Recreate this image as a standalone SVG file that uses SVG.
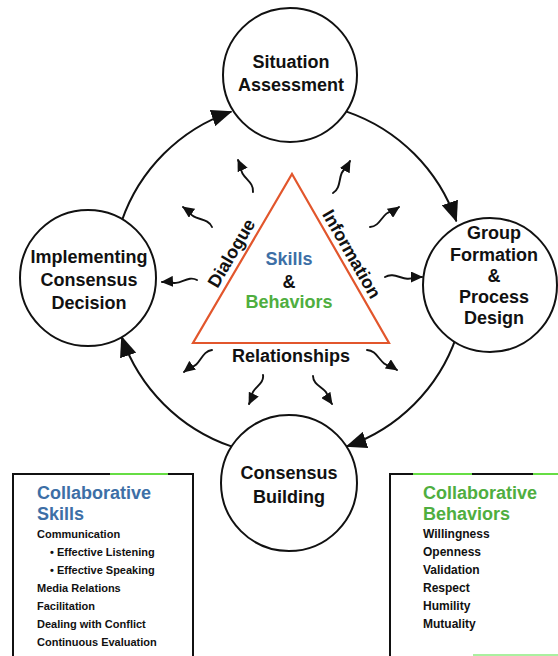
<svg xmlns="http://www.w3.org/2000/svg" width="558" height="656" viewBox="0 0 558 656">
  <style>
    .node { fill: #ffffff; stroke: #111111; stroke-width: 2; }
    .lbl { font-family: "Liberation Sans", Arial, sans-serif; font-weight: bold; font-size: 18px; fill: #111111; text-anchor: middle; }
    .ring { fill: none; stroke: #111111; stroke-width: 2; }
    .wave { fill: none; stroke: #111111; stroke-width: 1.9; stroke-linecap: round; stroke-linejoin: round; }
    .tri { fill: #ffffff; stroke: #e2562c; stroke-width: 2.2; stroke-linejoin: miter; }
    .blue { fill: #3d6fa6; }
    .green { fill: #4fae3f; }
    .title { font-family: "Liberation Sans", Arial, sans-serif; font-weight: bold; font-size: 18px; }
    .item { font-family: "Liberation Sans", Arial, sans-serif; font-weight: bold; font-size: 11px; fill: #111111; }
    .item2 { font-family: "Liberation Sans", Arial, sans-serif; font-weight: bold; font-size: 12px; fill: #111111; }
    .frame { stroke: #111111; stroke-width: 2; fill: none; }
    .frameg { stroke: #66dd44; stroke-width: 2; fill: none; }
  </style>
  <defs>
    <marker id="bigHead" markerUnits="userSpaceOnUse" markerWidth="21" markerHeight="17" refX="20" refY="8.5" orient="auto">
      <path d="M0,0 L21,8.5 L0,17 z" fill="#111111"/>
    </marker>
    <marker id="smallHead" markerUnits="userSpaceOnUse" markerWidth="12" markerHeight="11" refX="11" refY="5.5" orient="auto">
      <path d="M0,0 L12,5.5 L0,11 z" fill="#111111"/>
    </marker>
  </defs>

  <rect width="558" height="656" fill="#ffffff"/>

  <!-- cycle arcs between the four stages -->
  <g id="connectors">
    <path class="ring" d="M346.6 111.6 A177 177 0 0 1 456.4 221.4" marker-end="url(#bigHead)"/>
    <path class="ring" d="M456.4 336.6 A177 177 0 0 1 346.6 446.4" marker-end="url(#bigHead)"/>
    <path class="ring" d="M231.4 446.4 A177 177 0 0 1 121.6 336.6" marker-end="url(#bigHead)"/>
    <path class="ring" d="M121.6 221.4 A177 177 0 0 1 231.4 111.6" marker-end="url(#bigHead)"/>
  </g>

  <!-- wavy arrows radiating from the triangle -->
  <g id="radiating">
    <path class="wave" d="M253 192 C254.4 180.9 239.6 177.5 241 166.4 L238 160" marker-end="url(#smallHead)"/>
    <path class="wave" d="M333 193 C342.8 187.3 336.8 173.1 346.6 167.4 L350 161" marker-end="url(#smallHead)"/>
    <path class="wave" d="M212 227 C207.7 216.8 193.1 221.2 188.8 211 L183 207" marker-end="url(#smallHead)"/>
    <path class="wave" d="M370 227 C381.1 226.6 382.1 211.4 393.2 211 L399 207" marker-end="url(#smallHead)"/>
    <path class="wave" d="M197 280 C187.4 274.5 178.6 287.1 169 281.6 L162 282" marker-end="url(#smallHead)"/>
    <path class="wave" d="M385 277 C394.9 271 404.7 283 414.6 277 L422 277" marker-end="url(#smallHead)"/>
    <path class="wave" d="M212 350 C200.8 351.2 200.8 366.4 189.6 367.6 L184 372" marker-end="url(#smallHead)"/>
    <path class="wave" d="M367 350 C378.3 350.3 379.7 365.7 391 366 L397 370" marker-end="url(#smallHead)"/>
    <path class="wave" d="M263 375 C264.7 385.3 250.1 387.9 251.8 398.2 L249 404" marker-end="url(#smallHead)"/>
    <path class="wave" d="M313 376 C313.1 386.9 328.1 387.5 328.2 398.4 L332 404" marker-end="url(#smallHead)"/>
  </g>

  <!-- central triangle -->
  <g id="core">
    <polygon class="tri" points="292,174 389,343 193,343"/>
    <text class="lbl blue" x="289" y="265">Skills</text>
    <text class="lbl" x="289" y="288">&amp;</text>
    <text class="lbl green" x="289" y="308">Behaviors</text>
    <text class="lbl" transform="translate(231,253) rotate(-59.6)" x="0" y="6.5">Dialogue</text>
    <text class="lbl" transform="translate(352,254) rotate(60.1)" x="0" y="6.5">Information</text>
    <text class="lbl" x="291" y="362">Relationships</text>
  </g>

  <g id="situation-assessment">
    <circle class="node" cx="290" cy="75" r="67"/>
    <text class="lbl" x="291" y="68">Situation</text>
    <text class="lbl" x="291" y="91">Assessment</text>
  </g>

  <g id="group-formation">
    <circle class="node" cx="490" cy="285" r="67"/>
    <text class="lbl" x="494" y="239">Group</text>
    <text class="lbl" x="494" y="261">Formation</text>
    <text class="lbl" x="494" y="282">&amp;</text>
    <text class="lbl" x="494" y="303">Process</text>
    <text class="lbl" x="494" y="324">Design</text>
  </g>

  <g id="consensus-building">
    <circle class="node" cx="289" cy="483" r="68"/>
    <text class="lbl" x="289" y="479">Consensus</text>
    <text class="lbl" x="289" y="503">Building</text>
  </g>

  <g id="implementing-decision">
    <circle class="node" cx="88" cy="278" r="68"/>
    <text class="lbl" x="89" y="263">Implementing</text>
    <text class="lbl" x="89" y="286">Consensus</text>
    <text class="lbl" x="89" y="309">Decision</text>
  </g>

  <!-- skills list panel -->
  <g id="skills-box">
    <path class="frame" d="M13 658 V474 H110 M168 474 H193 V658"/>
    <path class="frameg" d="M110 474 H168"/>
    <text class="title blue" x="37" y="499">Collaborative</text>
    <text class="title blue" x="37" y="520">Skills</text>
    <text class="item" x="37" y="538">Communication</text>
    <text class="item" x="50" y="556">•  Effective Listening</text>
    <text class="item" x="50" y="574">•  Effective Speaking</text>
    <text class="item" x="37" y="592">Media Relations</text>
    <text class="item" x="37" y="610">Facilitation</text>
    <text class="item" x="37" y="628">Dealing with Conflict</text>
    <text class="item" x="37" y="646">Continuous Evaluation</text>
  </g>

  <!-- behaviors list panel -->
  <g id="behaviors-box">
    <path class="frame" d="M390 658 V474 H413 M472 474 H533"/>
    <path class="frameg" d="M413 474 H472 M533 474 H560"/>
    <path d="M473 655 H560" stroke="#aaf0a0" stroke-width="2" fill="none"/>
    <text class="title green" x="423" y="499">Collaborative</text>
    <text class="title green" x="423" y="520">Behaviors</text>
    <text class="item2" x="423" y="538">Willingness</text>
    <text class="item2" x="423" y="556">Openness</text>
    <text class="item2" x="423" y="574">Validation</text>
    <text class="item2" x="423" y="592">Respect</text>
    <text class="item2" x="423" y="610">Humility</text>
    <text class="item2" x="423" y="628">Mutuality</text>
  </g>
</svg>
